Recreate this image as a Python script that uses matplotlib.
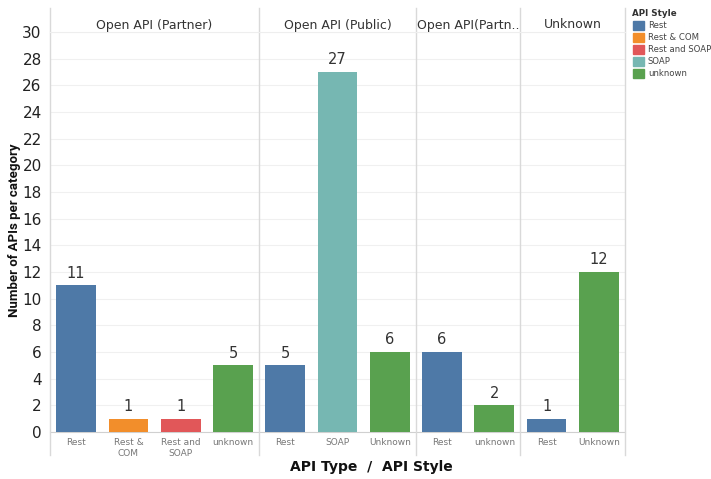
import numpy as np
import matplotlib.pyplot as plt

# facet headers and their bars
panels = ["Open API (Partner)", "Open API (Public)", "Open API(Partn..", "Unknown"]
p1_styles = ["Rest", "Rest &\nCOM", "Rest and\nSOAP", "unknown"]
p1_values = [11, 1, 1, 5]
p2_styles = ["Rest", "SOAP", "Unknown"]
p2_values = [5, 27, 6]
p3_styles = ["Rest", "unknown"]
p3_values = [6, 2]
p4_styles = ["Rest", "Unknown"]
p4_values = [1, 12]

legend_names = ["Rest", "Rest & COM", "Rest and SOAP", "SOAP", "unknown"]
legend_colors = ["#4e79a7", "#f28e2b", "#e15759", "#76b7b2", "#59a14f"]
color_of = {"Rest": "#4e79a7", "Rest &\nCOM": "#f28e2b", "Rest and\nSOAP": "#e15759",
            "SOAP": "#76b7b2", "unknown": "#59a14f", "Unknown": "#59a14f"}

groups = [(p1_styles, p1_values), (p2_styles, p2_values),
          (p3_styles, p3_values), (p4_styles, p4_values)]

W, H = 711, 479
fig = plt.figure(figsize=(W / 100, H / 100), dpi=100)
ax = fig.add_axes([50 / W, (H - 432) / H, 575 / W, 400 / H])

labels, values, colors, bounds = [], [], [], [0]
for styles, vals in groups:
    labels += styles
    values += vals
    colors += [color_of[s] for s in styles]
    bounds.append(bounds[-1] + len(styles))

x = np.arange(len(values))
ax.bar(x, values, width=0.76, color=colors, zorder=3)
for xi, v in zip(x, values):
    ax.text(xi, v + 0.35, str(v), ha="center", va="bottom", fontsize=10.5, color="#333333")

ax.set_xlim(-0.5, len(values) - 0.5)
ax.set_ylim(0, 30)
ax.set_yticks(range(0, 31, 2))
ax.tick_params(axis="y", length=0, labelsize=11, pad=6, labelcolor="#222222")
ax.set_xticks(x)
ax.set_xticklabels(labels, fontsize=6.5, color="#777777", linespacing=1.3)
ax.tick_params(axis="x", length=0, pad=4)
ax.grid(axis="y", color="#f0f0f0", linewidth=0.8, zorder=0)
for s in ["top", "right", "left"]:
    ax.spines[s].set_visible(False)
ax.spines["bottom"].set_color("#d0d0d0")

# facet separators and headers
top_fig = (H - 8) / H
bot_fig = (H - 455) / H
ax_l, ax_w = 50 / W, 575 / W
for b in bounds:
    xf = ax_l + ax_w * b / len(values)
    fig.add_artist(plt.Line2D([xf, xf], [bot_fig, top_fig], color="#d9d9d9", linewidth=1))
for i, name in enumerate(panels):
    xc = ax_l + ax_w * ((bounds[i] + bounds[i + 1]) / 2) / len(values)
    fig.text(xc, (H - 25) / H, name, ha="center", va="center", fontsize=9, color="#333333")
fig.add_artist(plt.Line2D([ax_l, ax_l + ax_w], [(H - 32) / H] * 2, color="#eeeeee", linewidth=0.8))

fig.text(371 / W, (H - 467) / H, "API Type  /  API Style", ha="center", va="center",
         fontsize=10, fontweight="bold", color="#111111")
fig.text(15 / W, (H - 230) / H, "Number of APIs per category", rotation=90, ha="center",
         va="center", fontsize=9.5, fontweight="bold", color="#111111",
         family=["Roboto", "DejaVu Sans"])

# legend
fig.text(632 / W, (H - 13) / H, "API Style", fontsize=6.3, fontweight="bold", color="#333333",
         va="center")
for i, (n, c) in enumerate(zip(legend_names, legend_colors)):
    yy = (H - 25 - 12 * i) / H
    fig.add_artist(plt.Rectangle((633 / W, yy - 4.5 / H), 11 / W, 9 / H, color=c))
    fig.text(648 / W, yy, n, fontsize=6.1, color="#444444", va="center")

fig.savefig("out.png", dpi=100)
